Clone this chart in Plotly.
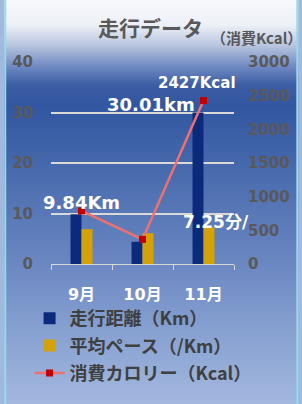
import plotly.graph_objects as go

months = ["9月", "10月", "11月"]
distance_km = [9.84, 4.4, 30.01]
pace_min = [6.9, 6.1, 7.25]
calories_kcal = [788, 365, 2427]

dist_labels = ["9.84Km", "", "30.01km"]
pace_labels = ["", "", "7.25分/"]
cal_labels = ["", "", "2427Kcal"]

W, H = 302, 404
L, R, T, B = 48, 66, 62, 140
PW, PH = W - L - R, H - T - B

def px_x(x):
    return (x - L) / PW

def px_y(y):
    return (H - B - y) / PH

stops = [(0, (247, 248, 251)), (25, (236, 240, 247)), (45, (185, 198, 223)),
         (65, (116, 141, 196)), (85, (60, 94, 165)), (105, (50, 86, 160)),
         (160, (68, 103, 171)), (260, (106, 134, 193)), (330, (134, 160, 208)),
         (404, (163, 184, 223))]

def col_at(y):
    for (y0, c0), (y1, c1) in zip(stops[:-1], stops[1:]):
        if y0 <= y <= y1:
            t = (y - y0) / (y1 - y0)
            return "rgb(%d,%d,%d)" % tuple(round(a + (b - a) * t) for a, b in zip(c0, c1))
    return "rgb(%d,%d,%d)" % stops[-1][1]

shapes = []
step = 2
for y in range(0, H, step):
    shapes.append(dict(type="rect", xref="paper", yref="paper", layer="below",
                       x0=px_x(0), x1=px_x(W), y0=px_y(y + step), y1=px_y(y),
                       fillcolor=col_at(y + step / 2), line=dict(width=0)))
for xe in (0, W - 2):
    shapes.append(dict(type="rect", xref="paper", yref="paper", layer="below",
                       x0=px_x(xe), x1=px_x(xe + 2), y0=px_y(H), y1=px_y(0),
                       fillcolor="#96dbe9", line=dict(width=0)))

CJK = "Noto Sans CJK JP"
NUM = "DejaVu Sans, Noto Sans CJK JP"
fig = go.Figure()
fig.add_trace(go.Bar(x=months, y=distance_km, name="走行距離（Km）", legendgroup="a",
                     marker=dict(color="#0b2a7c", line=dict(width=0))))
fig.add_trace(go.Bar(x=months, y=pace_min, name="平均ペース（/Km）", legendgroup="b",
                     marker=dict(color="#d4a208", line=dict(width=0))))
fig.add_trace(go.Scatter(x=months, y=calories_kcal, name="消費カロリー（Kcal）", yaxis="y2",
                         legendgroup="c", mode="lines+markers",
                         line=dict(color="#f07070", width=2.5),
                         marker=dict(symbol="square", size=7, color="#c00000")))

annotations = []
for m, v, t in zip(months, distance_km, dist_labels):
    if t:
        big = m == "11月"
        annotations.append(dict(x=m, y=v, xref="x", yref="y", text=t, showarrow=False,
                                xanchor="center", yanchor="middle",
                                xshift=-53 if big else 0, yshift=8 if big else 12,
                                font=dict(family=NUM, size=18, color="white", weight="bold")))
for m, v, t in zip(months, pace_min, pace_labels):
    if t:
        annotations.append(dict(x=m, y=v, xref="x", yref="y", text=t, showarrow=False,
                                xanchor="center", yanchor="middle",
                                xshift=12, yshift=5,
                                font=dict(family=NUM, size=17, color="white", weight="bold")))
for m, v, t in zip(months, calories_kcal, cal_labels):
    if t:
        annotations.append(dict(x=m, y=v, xref="x", yref="y2", text=t, showarrow=False,
                                xanchor="center", yanchor="middle",
                                xshift=-7, yshift=18,
                                font=dict(family=NUM, size=15, color="white", weight="bold")))
annotations.append(dict(x=px_x(150), y=px_y(27), xref="paper", yref="paper", text="走行データ",
                        xanchor="center", yanchor="middle", showarrow=False,
                        font=dict(family=CJK, size=21, color="#595959", weight="bold")))
annotations.append(dict(x=px_x(259), y=px_y(38), xref="paper", yref="paper", text="（消費Kcal）",
                        xanchor="center", yanchor="middle", showarrow=False,
                        font=dict(family=CJK, size=15, color="#595959", weight="bold")))

tickfont = dict(family=NUM, size=15, color="#595959", weight="bold")
fig.update_layout(
    width=W, height=H,
    margin=dict(l=L, r=R, t=T, b=B, pad=0),
    paper_bgcolor="#a3b8df", plot_bgcolor="rgba(0,0,0,0)",
    barmode="group", bargap=0.64, bargroupgap=0,
    shapes=shapes, annotations=annotations,
    showlegend=True,
    legend=dict(x=px_x(26), y=px_y(300), xanchor="left", yanchor="top",
                bgcolor="rgba(0,0,0,0)", font=dict(family=CJK, size=18, color="#404040", weight="bold"),
                tracegroupgap=1, itemwidth=30),
    xaxis=dict(range=[-0.5, 2.5], showline=True, linecolor="#d9d9d9", linewidth=1,
               ticks="outside", ticklen=5,
               tickcolor="#d9d9d9", tickson="boundaries", showgrid=False,
               tickfont=dict(family=NUM, size=16, color="white", weight="bold"),
               ticklabelstandoff=16),
    yaxis=dict(range=[0, 40], dtick=10, showgrid=True, gridcolor="#d9d9d9", gridwidth=1.5,
               zeroline=False, showline=False, tickfont=tickfont, ticklabelstandoff=17),
    yaxis2=dict(range=[0, 3000], dtick=500, overlaying="y", side="right", showgrid=False,
                zeroline=False, showline=False, tickfont=tickfont, ticklabelstandoff=13),
)
fig.write_html("out.html", config={"displayModeBar": False},
               post_script="document.body.style.margin='0';document.body.style.overflow='hidden';")
